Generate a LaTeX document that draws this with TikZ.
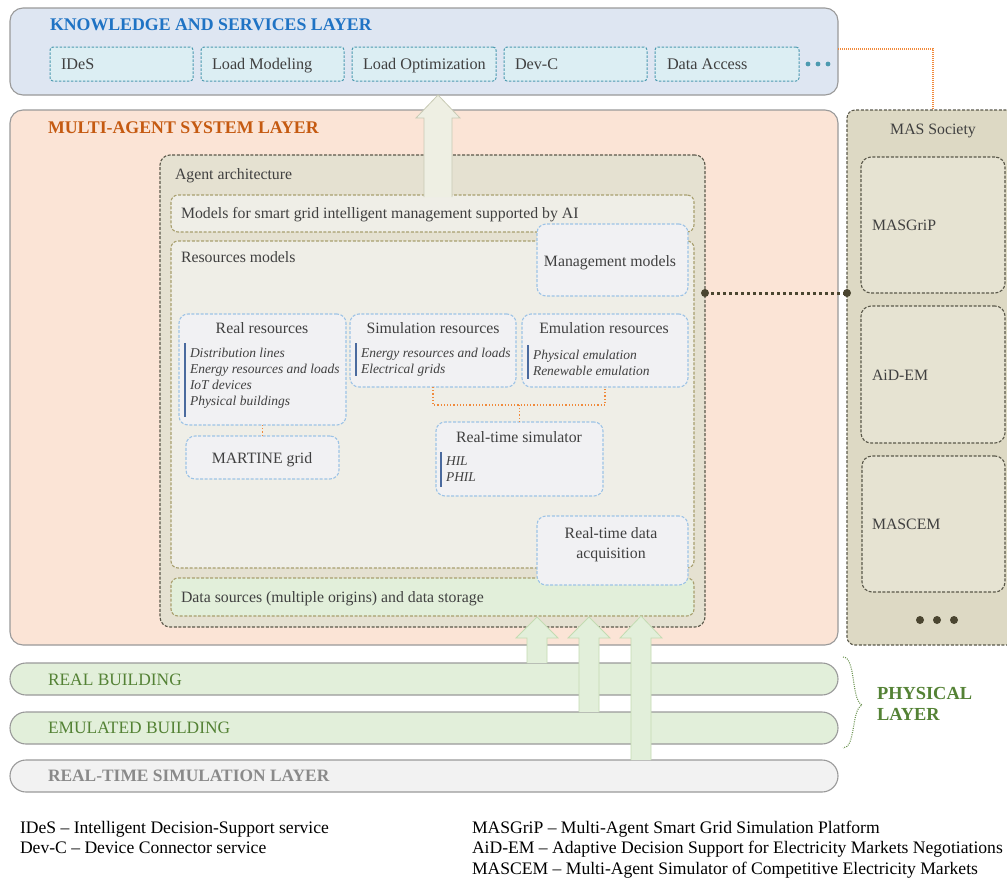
\documentclass[tikz,border=0pt]{standalone}
\usepackage{fontspec}
\setmainfont{Liberation Serif}
\definecolor{ksfill}{HTML}{DEE6F2}
\definecolor{ksblue}{HTML}{1F73C4}
\definecolor{svcfill}{HTML}{DCEEF3}
\definecolor{svcline}{HTML}{4C9AB0}
\definecolor{masfill}{HTML}{FBE4D6}
\definecolor{masorange}{HTML}{C55A11}
\definecolor{agfill}{HTML}{E5E1D1}
\definecolor{agline}{HTML}{5A584A}
\definecolor{olfill}{HTML}{EFEEE7}
\definecolor{olline}{HTML}{A89F6E}
\definecolor{blline}{HTML}{9DC3E6}
\definecolor{blfill}{HTML}{F1F1F3}
\definecolor{barblue}{HTML}{4A6A9E}
\definecolor{grfill}{HTML}{E2EFDA}
\definecolor{grtext}{HTML}{548235}
\definecolor{socfill}{HTML}{DDD9C4}
\definecolor{subfill}{HTML}{E6E3D2}
\definecolor{txt}{HTML}{404040}
\definecolor{orline}{HTML}{F08A3C}
\definecolor{dkdot}{HTML}{4A4530}
\definecolor{layline}{HTML}{9A9A9A}
\definecolor{rtsfill}{HTML}{F2F2F2}
\definecolor{rtstext}{HTML}{8A8A8A}
\definecolor{arfill}{HTML}{EEEFE3}
\definecolor{arline}{HTML}{C8CAB4}
\definecolor{garline}{HTML}{C3DBB2}
\newcommand\mybox[6]{\node[#1, minimum width={(#5-#3)*1pt}, minimum height={(#6-#4)*1pt}] (#2) at ({(#3+#5)/2},{(#4+#6)/2}) {};}
\tikzset{
  layer/.style={draw=layline, line width=1.1pt, rounded corners=13pt},
  svc/.style={draw=svcline, fill=svcfill, dashed, dash pattern=on 2.5pt off 1.5pt, line width=1pt, rounded corners=3pt},
  agbox/.style={draw=agline, fill=agfill, dash pattern=on 3pt off 1.6pt, line width=1.1pt, rounded corners=10pt},
  olbox/.style={draw=olline, fill=olfill, dash pattern=on 3pt off 1.6pt, line width=1.1pt, rounded corners=7pt},
  blbox/.style={draw=blline, fill=blfill, dash pattern=on 3pt off 1.6pt, line width=1.1pt, rounded corners=9pt},
  subbox/.style={draw=agline, fill=subfill, dash pattern=on 3pt off 1.6pt, line width=1.1pt, rounded corners=10pt},
  bar/.style={draw=layline, line width=1.1pt, rounded corners=16pt},
  lbl/.style={anchor=mid west, yshift=-3pt, text=txt, font=\fontsize{15.8}{18}\selectfont},
  clbl/.style={anchor=mid, yshift=-3pt, text=txt, font=\fontsize{15.8}{18}\selectfont, align=center},
  itm/.style={anchor=north west, yshift=-4pt, text=txt, align=left, font=\fontsize{13.5}{16}\selectfont\itshape},
  ttl/.style={anchor=mid west, yshift=-3pt, font=\fontsize{17.8}{20}\selectfont\bfseries},
  ibar/.style={draw=barblue, line width=2pt},
  ordot/.style={draw=orline, line width=1.2pt, dotted},
  bigar/.style={fill=arfill, draw=arline, line width=0.8pt},
  grar/.style={fill=grfill, draw=garline, line width=0.8pt},
  bartxt/.style={anchor=mid west, yshift=-3pt, font=\fontsize{17.4}{20}\selectfont},
  leg/.style={anchor=mid west, yshift=-3pt, text=black, font=\fontsize{17.6}{20}\selectfont}
}
\begin{document}
\begin{tikzpicture}[x=1pt,y=-1pt, every node/.style={inner sep=0pt, outer sep=0pt}]
\useasboundingbox (0,0) rectangle (1007,879);
\fill[white] (0,0) rectangle (1007,879);
\begin{scope}
\clip (0,0) rectangle (1007,879);
% knowledge layer
\mybox{layer, fill=ksfill}{ks}{10}{8}{838}{95}
\node[ttl, text=ksblue] (kst) at (50,25) {KNOWLEDGE AND SERVICES LAYER};
\mybox{svc}{ides}{50}{47}{193}{81}
\mybox{svc}{lmod}{201}{47}{344}{81}
\mybox{svc}{lopt}{352}{47}{496}{81}
\mybox{svc}{devc}{504}{47}{647}{81}
\mybox{svc}{dacc}{655}{47}{799}{81}
\node[lbl, font=\fontsize{16.2}{18}\selectfont] (idest) at (61,64) {IDeS};
\node[lbl, font=\fontsize{16.2}{18}\selectfont] (lmodt) at (212,64) {Load Modeling};
\node[lbl, font=\fontsize{16.2}{18}\selectfont] (loptt) at (363,64) {Load Optimization};
\node[lbl, font=\fontsize{16.2}{18}\selectfont] (devct) at (515,64) {Dev-C};
\node[lbl, font=\fontsize{16.2}{18}\selectfont] (dacct) at (667,64) {Data Access};
\foreach \i/\x in {1/808,2/818,3/828} \fill[svcline] (\x,64) circle (2.4pt);
% MAS layer
\mybox{layer, fill=masfill}{mas}{10}{110}{838}{645}
\node[ttl, text=masorange] (mast) at (48,128) {MULTI-AGENT SYSTEM LAYER};
\mybox{agbox}{agent}{160}{155}{705}{627}
\node[lbl] (agentt) at (175,174) {Agent architecture};
\mybox{olbox}{models}{171}{195}{694}{232}
\node[lbl] (modelst) at (181,213) {Models for smart grid intelligent management supported by AI};
\mybox{olbox}{res}{171}{241}{694}{568}
\node[lbl] (rest) at (181,257) {Resources models};
\mybox{olbox, fill=grfill}{data}{171}{578}{694}{616}
\node[lbl] (datat) at (181,597) {Data sources (multiple origins) and data storage};
\mybox{blbox}{mgmt}{537}{224}{688}{296}
\node[clbl] (mgmtt) at (610,261) {Management models};
\mybox{blbox}{rtda}{537}{516}{688}{585}
\node[clbl, font=\fontsize{15.8}{20}\selectfont] (rtdat) at (611,553) {Real-time data\\acquisition};
% resources
\mybox{blbox}{real}{179}{314}{346}{425}
\node[clbl] (realt) at (262,328) {Real resources};
\draw[ibar] (185,343) -- (185,417);
\node[itm] (reali) at (190,344) {Distribution lines\\Energy resources and loads\\IoT devices\\Physical buildings};
\mybox{blbox}{sim}{350}{314}{516}{387}
\node[clbl] (simt) at (433,328) {Simulation resources};
\draw[ibar] (356,343) -- (356,376);
\node[itm] (simi) at (361,344) {Energy resources and loads\\Electrical grids};
\mybox{blbox}{emu}{522}{314}{688}{387}
\node[clbl] (emut) at (604,328) {Emulation resources};
\draw[ibar] (528,345) -- (528,379);
\node[itm] (emui) at (533,346) {Physical emulation\\Renewable emulation};
\mybox{blbox}{martine}{186}{436}{339}{479}
\node[clbl] (martinet) at (262,458) {MARTINE grid};
\mybox{blbox}{rts}{436}{422}{603}{496}
\node[clbl] (rtst) at (519,437) {Real-time simulator};
\draw[ibar] (441,452) -- (441,487);
\node[itm] (rtsi) at (446,453) {HIL\\PHIL};
\draw[ordot] (sim.south) -- ++(0,18) -| (emu.south);
\draw[ordot] (rts.north) -- ++(0,-17);
\draw[ordot] (real.south) -- (martine.north);
% MAS society
\mybox{subbox, fill=socfill, rounded corners=8pt}{soc}{847}{110}{1019}{645}
\node[clbl] (soct) at (933,129) {MAS Society};
\mybox{subbox}{masgrip}{861}{157}{1005}{293}
\mybox{subbox}{aidem}{861}{306}{1005}{443}
\mybox{subbox}{mascem}{862}{456}{1005}{592}
\node[lbl] (masgript) at (872,225) {MASGriP};
\node[lbl] (aidemt) at (872,375) {AiD-EM};
\node[lbl] (mascemt) at (872,524) {MASCEM};
\foreach \x in {920,937,954} \fill[dkdot] (\x,620) circle (4pt);
\end{scope}
% connectors
\draw[draw=orline, line width=1.1pt, dash pattern=on 1pt off 1pt] (ks.east |- 0,49) -| (soc.north);
\coordinate (dl) at (agent.east |- masgrip.south);
\coordinate (dr) at (soc.west |- masgrip.south);
\draw[dkdot, line width=3pt, dash pattern=on 3pt off 3pt] (dl) -- (dr);
\fill[dkdot] (dl) circle (4pt) (dr) circle (4pt);
% physical layer bars
\mybox{bar, fill=grfill}{realb}{10}{663}{838}{695}
\node[bartxt, text=grtext] (realbt) at (48,680) {REAL BUILDING};
\mybox{bar, fill=grfill}{emub}{10}{712}{838}{744}
\node[bartxt, text=grtext] (emubt) at (48,728) {EMULATED BUILDING};
\mybox{bar, fill=rtsfill}{rtsb}{10}{760}{838}{792}
\node[bartxt, text=rtstext, font=\fontsize{17.4}{20}\selectfont\bfseries] (rtsbt) at (48,776) {REAL-TIME SIMULATION LAYER};
% brace
\draw[grtext!85, line width=1.1pt, dash pattern=on 1pt off 1.2pt] (843,657) .. controls (856,657) and (851,700) .. (862,705) .. controls (851,710) and (856,748) .. (843,748);
\node[anchor=west, text=grtext, font=\fontsize{18.4}{21}\selectfont\bfseries, align=left] (phys) at (877,704) {PHYSICAL\\LAYER};
% block arrows
\draw[bigar] (424,197) -- (424,118) -- (416,118) -- (438,95) -- (460,118) -- (452,118) -- (452,197);
\draw[grar] (527,663) -- (527,638) -- (516,638) -- (537,617) -- (558,638) -- (547,638) -- (547,663);
\draw[grar] (579,712) -- (579,638) -- (568,638) -- (589,617) -- (610,638) -- (599,638) -- (599,712);
\draw[grar] (631,760) -- (631,638) -- (620,638) -- (641,616) -- (662,638) -- (651,638) -- (651,760);
% legend
\node[leg] (l1) at (20,828) {IDeS -- Intelligent Decision-Support service};
\node[leg] (l2) at (20,848) {Dev-C -- Device Connector service};
\node[leg] (l3) at (472,828) {MASGriP -- Multi-Agent Smart Grid Simulation Platform};
\node[leg] (l4) at (472,848) {AiD-EM -- Adaptive Decision Support for Electricity Markets Negotiations};
\node[leg] (l5) at (472,869) {MASCEM -- Multi-Agent Simulator of Competitive Electricity Markets};
\end{tikzpicture}
\end{document}
